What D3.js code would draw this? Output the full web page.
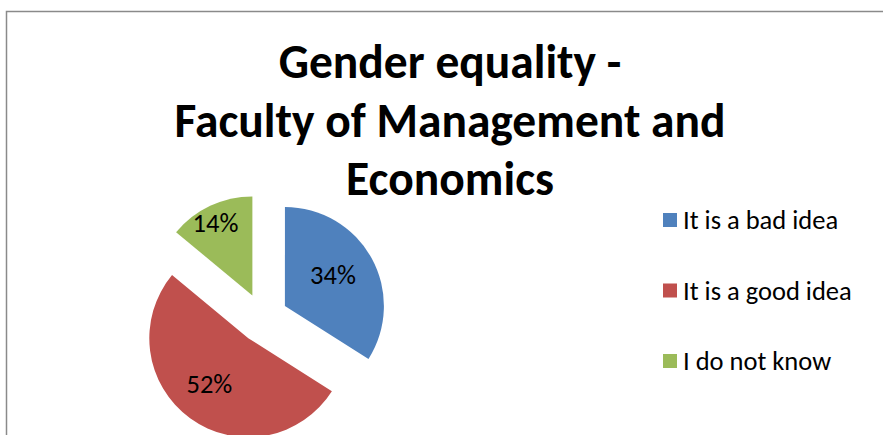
<!DOCTYPE html>
<html lang="en">
<head>
<meta charset="utf-8">
<title>Gender equality - Faculty of Management and Economics</title>
<script src="https://cdn.jsdelivr.net/npm/d3@7"></script>
<style>
	body { margin: 0; background: white; }
	svg { display: block; font-family: Carlito, Calibri, Lato, sans-serif; }
</style>
</head>
<body>
<svg id="chart" width="883" height="435"></svg>
<script>
// chart data
var titleLines = ["Gender equality -", "Faculty of Management and", "Economics"]
var categories = ["It is a bad idea", "It is a good idea", "I do not know"]
var shares = [34, 52, 14]
var colors = ["#4F81BD", "#C0504D", "#9BBB59"]

var svg = d3.select("#chart")

// chart area frame (right and bottom edges run off the picture)
svg.append("rect")
	.attr("x", 6.5).attr("y", 11.5)
	.attr("width", 1000).attr("height", 1000)
	.attr("fill", "none")
	.attr("stroke", "#8a8a8a")
	.attr("stroke-width", 1.5)

// title, three centred lines
svg.append("g").selectAll("text")
	.data(titleLines)
	.enter().append("text")
	.attr("x", 450)
	.attr("y", function(d, i) { return 78 + i * 58.5 })
	.attr("text-anchor", "middle")
	.style("font-size", "47.5px")
	.style("font-weight", "bold")
	.attr("fill", "#000")
	.text(function(d) { return d })

// exploded pie
var cx = 263, cy = 318, r = 99, explode = 25
var pie = d3.pie().sort(null).value(function(d) { return d })
var arcs = pie(shares)
var arc = d3.arc().innerRadius(0).outerRadius(r)

var mid = function(d) { return (d.startAngle + d.endAngle) / 2 }

var slices = svg.append("g")
	.attr("transform", "translate(" + cx + "," + cy + ")")
	.selectAll("g")
	.data(arcs)
	.enter().append("g")
	.attr("transform", function(d) {
		var a = mid(d)
		return "translate(" + (Math.sin(a) * explode) + "," + (-Math.cos(a) * explode) + ")"
	})

slices.append("path")
	.attr("d", arc)
	.attr("fill", function(d, i) { return colors[i] })

// small slices get their label pushed toward the rim, like Excel's best fit
slices.append("text")
	.attr("transform", function(d) {
		var f = (d.data < 20) ? 0.78 : 0.6
		var la = d3.arc().innerRadius(r * f).outerRadius(r * f)
		var c = la.centroid(d)
		return "translate(" + (c[0] - 4) + "," + (c[1] - 3) + ")"
	})
	.attr("text-anchor", "middle")
	.attr("dy", "0.35em")
	.style("font-size", "26.5px")
	.attr("fill", "#000")
	.text(function(d) { return d3.format(".0%")(d.data / d3.sum(shares)) })

// legend
var legend = svg.append("g").selectAll("g")
	.data(categories)
	.enter().append("g")
	.attr("transform", function(d, i) { return "translate(663," + (220 + i * 70.5) + ")" })

legend.append("rect")
	.attr("x", 0).attr("y", -7)
	.attr("width", 14).attr("height", 14)
	.attr("fill", function(d, i) { return colors[i] })

legend.append("text")
	.attr("x", 20)
	.attr("dy", "0.35em")
	.style("font-size", "26.5px")
	.attr("fill", "#000")
	.text(function(d) { return d })
</script>
</body>
</html>
